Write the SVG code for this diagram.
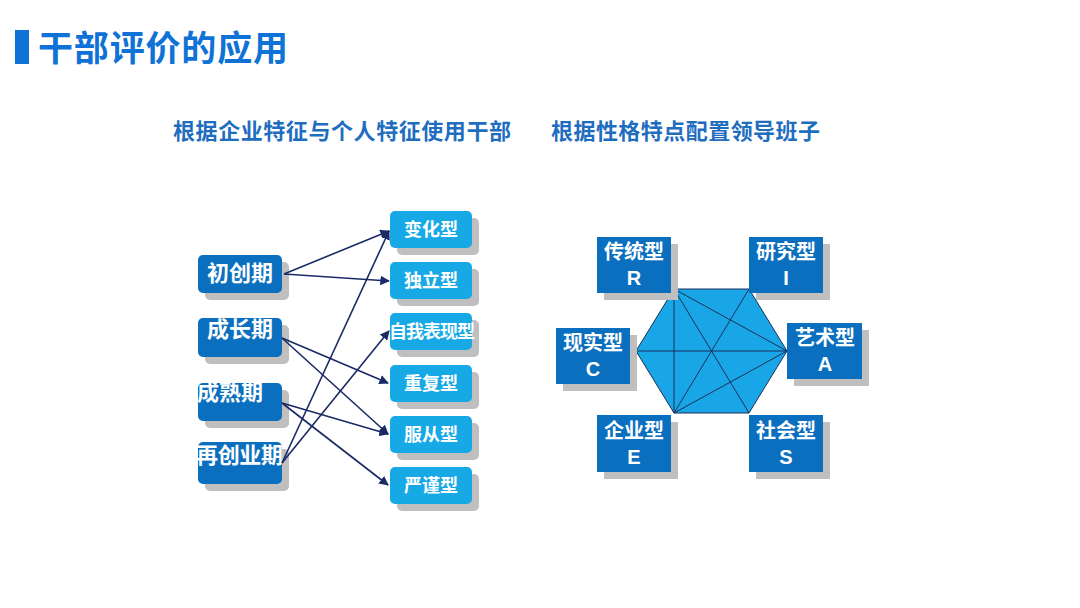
<svg xmlns="http://www.w3.org/2000/svg" width="1080" height="608" viewBox="0 0 1080 608">
<defs>
<style>
.t{font-family:"Noto Sans CJK SC","Microsoft YaHei",sans-serif;font-weight:bold}
.lb{fill:#0B6FC0}
.rb{fill:#17A9E6}
.sh{fill:#BFBFBF}
.wt{fill:#fff;font-family:"Noto Sans CJK SC",sans-serif;font-weight:bold}
.lt{fill:#fff;font-family:"Liberation Sans",Arial,sans-serif;font-weight:bold;font-size:20px;text-anchor:middle}
.cn{stroke:#1A2A66;stroke-width:1.6;fill:none;marker-end:url(#ah)}
.hx{stroke:#1B2F5A;stroke-width:1;fill:none}
</style>
<marker id="ah" viewBox="0 0 10 10" refX="9" refY="5" markerWidth="6" markerHeight="6" orient="auto" markerUnits="strokeWidth"><path d="M0,0 L10,5 L0,10 z" fill="#1A2A66"/></marker>
</defs>
<rect width="1080" height="608" fill="#fff"/>
<g id="title">
<rect x="15" y="30" width="14" height="34" fill="#0F72D6"/>
<text x="38" y="61" class="t" font-size="35" fill="#0F72D6" textLength="250">干部评价的应用</text>
</g>
<g id="subtitles" class="t" font-size="22" fill="#1E6DBF">
<text x="173" y="139" textLength="338">根据企业特征与个人特征使用干部</text>
<text x="551" y="139" textLength="269">根据性格特点配置领导班子</text>
</g>
<g id="left-boxes">
<g id="n-chuchuang"><rect class="sh" x="205" y="262" width="84" height="38" rx="5"/><rect class="lb" x="198" y="255" width="84" height="38" rx="5"/><text class="wt" x="240" y="281" font-size="22" text-anchor="middle" textLength="66">初创期</text></g>
<g id="n-chengzhang"><rect class="sh" x="205" y="325" width="84" height="39" rx="5"/><rect class="lb" x="198" y="318" width="84" height="39" rx="5"/><text class="wt" x="207" y="337" font-size="22" textLength="66">成长期</text></g>
<g id="n-chengshu"><rect class="sh" x="205" y="390" width="84" height="38" rx="5"/><rect class="lb" x="198" y="383" width="84" height="38" rx="5"/><text class="wt" x="197" y="400" font-size="22" textLength="66">成熟期</text></g>
<g id="n-zaichuangye"><rect class="sh" x="205" y="449" width="84" height="42" rx="5"/><rect class="lb" x="198" y="442" width="84" height="42" rx="5"/><text class="wt" x="196" y="463" font-size="22" textLength="87">再创业期</text></g>
</g>
<g id="right-boxes">
<g id="n-bianhua"><rect class="sh" x="397" y="218" width="82" height="37" rx="5"/><rect class="rb" x="390" y="211" width="82" height="37" rx="5"/><text class="wt" x="431" y="236" font-size="18" text-anchor="middle">变化型</text></g>
<g id="n-duli"><rect class="sh" x="397" y="269" width="82" height="37" rx="5"/><rect class="rb" x="390" y="262" width="82" height="37" rx="5"/><text class="wt" x="431" y="287" font-size="18" text-anchor="middle">独立型</text></g>
<g id="n-ziwo"><rect class="sh" x="397" y="320" width="82" height="37" rx="5"/><rect class="rb" x="390" y="313" width="82" height="37" rx="5"/><text class="wt" x="389" y="338" font-size="18" textLength="86">自我表现型</text></g>
<g id="n-chongfu"><rect class="sh" x="397" y="372" width="82" height="37" rx="5"/><rect class="rb" x="390" y="365" width="82" height="37" rx="5"/><text class="wt" x="431" y="390" font-size="18" text-anchor="middle">重复型</text></g>
<g id="n-fucong"><rect class="sh" x="397" y="423" width="82" height="37" rx="5"/><rect class="rb" x="390" y="416" width="82" height="37" rx="5"/><text class="wt" x="431" y="441" font-size="18" text-anchor="middle">服从型</text></g>
<g id="n-yanjin"><rect class="sh" x="397" y="474" width="82" height="37" rx="5"/><rect class="rb" x="390" y="467" width="82" height="37" rx="5"/><text class="wt" x="431" y="492" font-size="18" text-anchor="middle">严谨型</text></g>
</g>
<g id="connectors">
<line class="cn" x1="284" y1="274" x2="389" y2="231"/>
<line class="cn" x1="284" y1="274" x2="389" y2="281"/>
<line class="cn" x1="282" y1="338" x2="388" y2="383"/>
<line class="cn" x1="282" y1="338" x2="388" y2="434"/>
<line class="cn" x1="282" y1="403" x2="388" y2="434"/>
<line class="cn" x1="282" y1="403" x2="388" y2="485"/>
<line class="cn" x1="282" y1="463" x2="389" y2="231"/>
<line class="cn" x1="282" y1="463" x2="389" y2="331"/>
</g>
<g id="hexagon">
<polygon points="674,289 749,289 787,351 749,413 674,413 636,351" fill="#19A6E6" stroke="#1B2F5A" stroke-width="1"/>
<path class="hx" d="M674,289 L787,351 M674,289 L749,413 M674,289 L674,413 M749,289 L674,413 M636,351 L787,351 M674,413 L787,351"/>
</g>
<g id="type-boxes">
<g id="n-R"><rect class="sh" x="604" y="244" width="74" height="56"/><rect class="lb" x="597" y="237" width="74" height="56"/><text class="wt" x="634" y="259" font-size="20" text-anchor="middle">传统型</text><text class="lt" x="634" y="285">R</text></g>
<g id="n-I"><rect class="sh" x="756" y="244" width="74" height="56"/><rect class="lb" x="749" y="237" width="74" height="56"/><text class="wt" x="786" y="259" font-size="20" text-anchor="middle">研究型</text><text class="lt" x="786" y="285">I</text></g>
<g id="n-C"><rect class="sh" x="563" y="335" width="74" height="56"/><rect class="lb" x="556" y="328" width="74" height="56"/><text class="wt" x="593" y="350" font-size="20" text-anchor="middle">现实型</text><text class="lt" x="593" y="376">C</text></g>
<g id="n-A"><rect class="sh" x="794" y="330" width="75" height="56"/><rect class="lb" x="787" y="323" width="75" height="56"/><text class="wt" x="825" y="345" font-size="20" text-anchor="middle">艺术型</text><text class="lt" x="825" y="371">A</text></g>
<g id="n-E"><rect class="sh" x="604" y="422" width="74" height="57"/><rect class="lb" x="597" y="415" width="74" height="57"/><text class="wt" x="634" y="438" font-size="20" text-anchor="middle">企业型</text><text class="lt" x="634" y="464">E</text></g>
<g id="n-S"><rect class="sh" x="756" y="422" width="74" height="57"/><rect class="lb" x="749" y="415" width="74" height="57"/><text class="wt" x="786" y="438" font-size="20" text-anchor="middle">社会型</text><text class="lt" x="786" y="464">S</text></g>
</g>
</svg>
